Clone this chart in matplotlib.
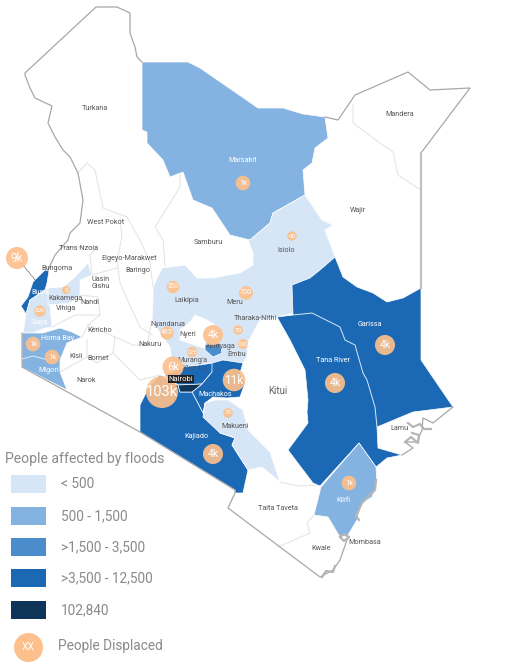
import numpy as np
import matplotlib
matplotlib.use('Agg')
import matplotlib.pyplot as plt
from matplotlib.patches import Polygon, Rectangle

plt.rcParams['font.family'] = ['Roboto', 'DejaVu Sans']

LIGHT = '#d6e6f7'
MID = '#85b3e1'
STRONG = '#4b8ccd'
DARK = '#1b68b5'
DARKEST = '#0e3459'
BUBBLE = '#fdc08c'
BORDER = '#a8a8a8'
FAINT = '#e2e2e2'

marsabit = [(142, 62), (188, 62), (200, 68), (258, 108), (283, 108), (303, 114), (325, 117), (328, 138),
            (315, 148), (312, 163), (303, 170), (305, 195), (273, 213), (270, 223), (250, 240), (230, 235),
            (212, 208), (193, 200), (183, 172), (170, 177), (163, 160), (147, 143), (147, 132), (142, 130)]
central = [(305, 195), (322, 220), (333, 225), (325, 230), (335, 257), (320, 270), (310, 278), (292, 285),
           (295, 313), (277, 317), (260, 320), (253, 333), (248, 342), (247, 357), (243, 363), (223, 360),
           (213, 363), (200, 365), (185, 367), (172, 362), (170, 347), (160, 333), (152, 320), (153, 300),
           (153, 287), (162, 268), (185, 265), (197, 278), (213, 278), (240, 273), (253, 265), (253, 253),
           (248, 240), (250, 240), (270, 223), (273, 213)]
nyeri = [(180, 330), (190, 322), (195, 315), (207, 320), (215, 325), (206, 340), (210, 350), (195, 345), (180, 340)]
kirinyaga = [(205, 345), (220, 343), (222, 353), (213, 357), (205, 350)]
kiambu = [(185, 367), (200, 365), (213, 363), (212, 372), (202, 384), (178, 385), (165, 375)]
machakos = [(212, 363), (223, 360), (243, 363), (240, 373), (245, 383), (240, 397), (227, 398), (213, 397),
            (205, 403), (203, 413), (192, 392), (202, 384), (212, 372)]
nairobi = [(178, 385), (202, 384), (192, 392), (180, 392)]
kajiado = [(140, 405), (150, 385), (160, 375), (172, 383), (178, 385), (180, 392), (192, 392), (203, 413),
           (217, 428), (220, 433), (235, 438), (232, 445), (248, 470), (243, 493), (235, 493), (235, 490), (140, 432)]
makueni = [(215, 400), (228, 400), (243, 410), (248, 430), (270, 452), (277, 473), (280, 482), (262, 467),
           (248, 470), (232, 445), (235, 438), (220, 433), (203, 417), (205, 403)]
tana_garissa = [(277, 317), (293, 315), (292, 285), (310, 278), (320, 270), (335, 257), (343, 277), (357, 287),
                (373, 293), (387, 302), (403, 298), (421, 288), (421, 360), (453, 407), (413, 412), (377, 427),
                (378, 448), (402, 455), (387, 458), (376, 467), (359, 443), (320, 486), (313, 483), (288, 450),
                (308, 423), (307, 412), (308, 400), (305, 370), (290, 340)]
kilifi = [(359, 443), (376, 467), (377, 483), (372, 497), (362, 503), (357, 520), (348, 535), (340, 537),
          (328, 517), (314, 515), (321, 487)]
busia = [(45, 270), (49, 271), (47, 283), (45, 290), (36, 296), (30, 300), (26, 314), (21, 306), (28, 297), (33, 282)]
siaya = [(26, 314), (30, 300), (36, 296), (48, 288), (50, 307), (52, 327), (45, 328), (33, 333), (23, 333)]
kakamega = [(48, 288), (63, 287), (75, 277), (88, 263), (92, 275), (80, 280), (80, 295), (70, 303), (48, 305)]
homa_migori = [(22, 333), (43, 333), (60, 328), (72, 332), (82, 337), (67, 343), (60, 360), (60, 372),
               (67, 390), (22, 367)]
filled_counties = [(marsabit, MID), (central, LIGHT), (nyeri, 'white'), (kirinyaga, STRONG), (kiambu, DARK),
                   (machakos, DARK), (kajiado, DARK), (nairobi, DARKEST), (makueni, LIGHT), (tana_garissa, DARK),
                   (kilifi, MID), (busia, DARK), (siaya, LIGHT), (kakamega, LIGHT), (homa_migori, MID)]

# country border pieces
border_west = [(142, 62), (137, 57), (135, 47), (130, 33), (130, 13), (117, 7), (96, 7), (25, 73), (25, 75),
               (30, 88), (35, 98), (52, 106), (48, 123), (55, 137), (63, 150), (70, 157), (78, 173), (83, 200),
               (80, 223), (70, 233), (68, 240), (62, 247), (55, 255), (48, 270)]
border_south = [(22, 333), (22, 367), (82, 400), (140, 432), (235, 490), (235, 493), (228, 508), (320, 577),
                (333, 570), (340, 560), (348, 537)]
border_east = [(325, 117), (338, 120), (355, 95), (408, 72), (430, 90), (470, 88), (421, 153)]
border_wajir = [(421, 153), (421, 288)]
coast = [(402, 455), (413, 448), (405, 442), (417, 442), (422, 430), (423, 418), (433, 423), (453, 407)]
border_lines = [border_west, border_south, border_east, coast]

# rough grey bits along the shore
mombasa_shore = [(340, 537), (344, 534), (349, 537), (344, 541), (341, 538)]
south_shore = [(322, 577), (326, 571), (333, 572), (335, 566)]
lamu_shore = [(405, 442), (411, 437), (418, 443), (419, 435), (412, 433)]
lamu_isles = [(408, 423), (413, 427), (420, 424), (424, 429), (431, 429)]
kilifi_shore = [(376, 480), (375, 490), (362, 503), (356, 516), (359, 520)]
shore_lines = [mombasa_shore, south_shore, lamu_shore, lamu_isles, kilifi_shore]

# county boundaries inside the country
west_pokot = [(78, 173), (87, 163), (95, 170), (103, 208), (127, 217), (140, 240), (150, 262), (153, 287)]
samburu_west = [(180, 172), (180, 187), (155, 227), (163, 240), (165, 266)]
mandera_line = [(353, 105), (353, 123), (380, 143), (393, 152), (398, 175), (421, 190)]
taita_top = [(280, 482), (298, 486), (320, 485)]
taita_kwale = [(314, 515), (307, 523), (310, 533), (278, 547)]
elgeyo = [(120, 217), (122, 237), (117, 260), (120, 283), (132, 310), (140, 327), (152, 335)]
nzoia = [(62, 247), (97, 247), (90, 255), (92, 275)]
uasin = [(92, 275), (117, 268)]
nandi = [(80, 295), (98, 297), (100, 315), (88, 325)]
vihiga = [(52, 327), (75, 315), (100, 315)]
kericho = [(82, 337), (88, 325), (115, 337), (113, 353), (97, 363), (87, 357), (87, 340)]
narok_top = [(60, 372), (87, 357)]
nakuru = [(115, 337), (133, 345), (147, 345), (152, 320)]
narok_east = [(113, 353), (140, 380), (160, 375)]
faint_lines = [west_pokot, samburu_west, mandera_line, taita_top, taita_kwale, elgeyo, nzoia, uasin, nandi,
               vihiga, kericho, narok_top, nakuru, narok_east]

river = [(293, 315), (312, 313), (340, 327), (345, 340), (355, 345), (363, 373), (367, 380), (375, 407), (377, 427)]
migori_line = [(22, 359), (33, 356), (48, 360), (60, 357)]
kitui_top = [(277, 317), (260, 320)]

# people displaced
displaced = [9000, 5, 200, 1000, 1000, 103000, 6000, 4000, 11000, 700, 350, 50, 100, 485, 125, 70, 40, 1000,
             4000, 4000, 4000, 1000]
bubble_x = [17, 66, 40, 33, 52, 162, 173, 213, 234, 246, 173, 238, 243, 167, 192, 228, 292, 243, 385, 335, 213, 349]
bubble_y = [258, 290, 311, 344, 357, 392, 367, 335, 380, 293, 287, 330, 344, 333, 352, 413, 236, 183, 345, 383, 454, 483]

county_names = ['Turkana', 'Mandera', 'Wajir', 'Samburu', 'West Pokot', 'Trans Nzoia', 'Elgeyo-Marakwet', 'Baringo',
                'Bungoma', 'Uasin\nGishu', 'Kakamega', 'Nandi', 'Vihiga', 'Kericho', 'Nakuru', 'Kisii', 'Bomet',
                'Narok', 'Laikipia', 'Meru', 'Tharaka-Nithi', 'Nyandarua', 'Nyeri', 'Kirinyaga', 'Embu', "Murang'a",
                'Kiambu', 'Isiolo', 'Makueni', 'Lamu', 'Taita Taveta', 'Kwale', 'Mombasa']
name_x = [95, 400, 358, 208, 106, 79, 129, 138, 57, 101, 65, 90, 66, 100, 150, 76, 98, 86, 187, 235, 255, 168, 188,
          220, 237, 192, 195, 286, 235, 399, 278, 321, 365]
name_y = [109, 115, 211, 243, 222, 249, 258, 271, 269, 283, 298, 303, 309, 331, 344, 357, 358, 380, 300, 303, 318,
          324, 335, 347, 355, 361, 369, 251, 426, 429, 509, 549, 543]
white_names = ['Marsabit', 'Busia', 'Siaya', 'Homa Bay', 'Migori', 'Machakos', 'Kajiado', 'Tana River', 'Garissa', 'Kilifi']
white_x = [243, 40, 39, 58, 49, 215, 196, 333, 370, 343]
white_y = [161, 292, 322, 338, 371, 394, 436, 361, 325, 500]

legend_title = 'People affected by floods'
legend_labels = ['< 500', '500 - 1,500', '>1,500 - 3,500', '>3,500 - 12,500', '102,840']
legend_colors = [LIGHT, MID, STRONG, DARK, DARKEST]
legend_tops = [475, 507, 538, 569, 601]


def bubble_label(v):
    return '%dk' % round(v/1000) if v >= 1000 else str(v)


def bubble_radius(v):
    return np.interp(np.log10(v), [0.7, 2, 3, 3.6, 4.05, 5], [4, 5, 7.3, 10, 11.3, 16])


def main():
    fig = plt.figure(figsize=(5.06, 6.70), dpi=100)
    ax = fig.add_axes([0, 0, 1, 1])
    ax.set_xlim(0, 506)
    ax.set_ylim(670, 0)
    ax.axis('off')

    for outline, colour in filled_counties:
        ax.add_patch(Polygon(outline, closed=True, facecolor=colour, edgecolor='white', linewidth=0.5, zorder=2))

    for line in faint_lines:
        x, y = np.transpose(line)
        ax.plot(x, y, color=FAINT, lw=0.7, zorder=1)
    for line in border_lines:
        x, y = np.transpose(line)
        ax.plot(x, y, color=BORDER, lw=0.9, zorder=3)
    for line in shore_lines:
        x, y = np.transpose(line)
        ax.plot(x, y, color='#b5b5b5', lw=1.6, zorder=3)
    x, y = np.transpose(border_wajir)
    ax.plot(x, y, color='#c0c0c0', lw=1.6, zorder=3)
    for line in [river, migori_line, kitui_top]:
        x, y = np.transpose(line)
        ax.plot(x, y, color='#dbe8f5', lw=0.7, zorder=3)
    ax.plot([17, 36], [258, 281], color='#333333', lw=0.5, ls=(0, (2, 1)), zorder=4)

    for name, x, y in zip(county_names, name_x, name_y):
        ax.text(x, y, name, fontsize=5.2, color='#555555', ha='center', va='center', linespacing=1.0, zorder=5)
    ax.text(278, 391, 'Kitui', fontsize=7, color='#666666', ha='center', va='center', zorder=5)
    for name, x, y in zip(white_names, white_x, white_y):
        ax.text(x, y, name, fontsize=5.2, color='white', ha='center', va='center', zorder=5)
    ax.text(181, 379, 'Nairobi', fontsize=5.5, color='white', ha='center', va='center', zorder=7,
            bbox=dict(facecolor='#222222', edgecolor='none', pad=0.6))

    values = np.array(displaced, dtype=float)
    radii = bubble_radius(values)*72.0/100.0
    ax.scatter(bubble_x, bubble_y, s=(2*radii)**2, color=BUBBLE, alpha=0.92, linewidths=0, zorder=6)
    for v, x, y, r in zip(displaced, bubble_x, bubble_y, radii):
        size = max(4.5, min(r*1.05, 10.5))
        ax.text(x, y, bubble_label(v), fontsize=size, color='white', ha='center', va='center', zorder=7)

    ax.text(5, 459, legend_title, fontsize=10.1, color='#8a8a8a', ha='left', va='center', zorder=5)
    for label, colour, top in zip(legend_labels, legend_colors, legend_tops):
        ax.add_patch(Rectangle((11, top), 35, 18, facecolor=colour, edgecolor='none', zorder=5))
        ax.text(61, top + 9, label, fontsize=9.8, color='#8a8a8a', ha='left', va='center', zorder=5)
    ax.scatter([28], [647], s=(2*14.5*0.72)**2, color=BUBBLE, linewidths=0, zorder=5)
    ax.text(28, 647, 'XX', fontsize=7.5, color='white', ha='center', va='center', zorder=6)
    ax.text(58, 646, 'People Displaced', fontsize=9.8, color='#8a8a8a', ha='left', va='center', zorder=5)

    fig.savefig('out.png', dpi=100)


if __name__ == "__main__":
    main()
